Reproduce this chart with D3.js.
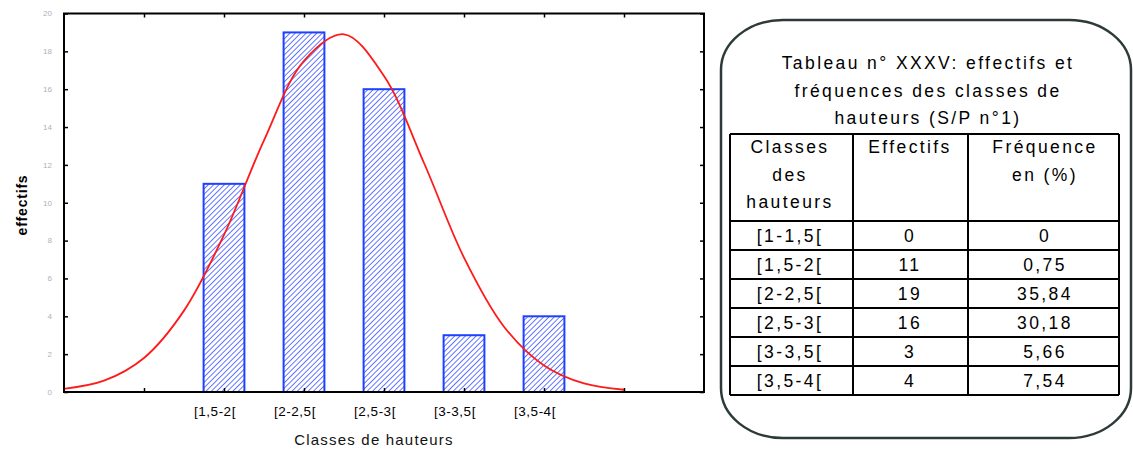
<!DOCTYPE html>
<html><head><meta charset="utf-8">
<script src="https://cdn.jsdelivr.net/npm/d3@7"></script>
<style>
html,body{margin:0;padding:0;background:#fff;}
svg{display:block;}
</style></head>
<body>
<svg id="c" width="1133" height="450"></svg>
<script>
// ---- data ----
const classes = ["[1-1,5[", "[1,5-2[", "[2-2,5[", "[2,5-3[", "[3-3,5[", "[3,5-4["];
const classLow = [1.0, 1.5, 2.0, 2.5, 3.0, 3.5];
const effectifs = [0, 11, 19, 16, 3, 4];
const frequences = ["0", "0,75", "35,84", "30,18", "5,66", "7,54"];
const yTicks = [0, 2, 4, 6, 8, 10, 12, 14, 16, 18, 20];
const xTickLabels = ["", "[1,5-2[", "[2-2,5[", "[2,5-3[", "[3-3,5[", "[3,5-4[", ""];
const xTickPos = [1.25, 1.75, 2.25, 2.75, 3.25, 3.75, 4.25];
// fitted curve
const curveX = [0.75, 1.0, 1.25, 1.5, 1.75, 2.0, 2.25, 2.5, 2.75, 3.0, 3.25, 3.5, 3.75, 4.0, 4.25];
const curveY = [0.17, 0.6, 1.8, 4.3, 8.3, 13.3, 17.5, 18.9, 16.7, 12.1, 7.1, 3.45, 1.4, 0.45, 0.12];
const tableTitle = ["Tableau n° XXXV: effectifs et", "fréquences des classes de", "hauteurs (S/P n°1)"];
const headers = [["Classes", "des", "hauteurs"], ["Effectifs"], ["Fréquence", "en (%)"]];

const svg = d3.select("#c");
const L = 64, R = 704, T = 13.5, B = 392;
const x = d3.scaleLinear().domain([0.75, 4.75]).range([L, R]);
const y = d3.scaleLinear().domain([0, 20]).range([B, T]);

// hatch pattern
const defs = svg.append("defs");
const pat = defs.append("pattern").attr("id", "hatch").attr("patternUnits", "userSpaceOnUse")
  .attr("width", 3.8).attr("height", 3.8).attr("patternTransform", "rotate(45)");
pat.append("rect").attr("width", 3.8).attr("height", 3.8).attr("fill", "#fff");
pat.append("line").attr("x1", 0).attr("y1", 0).attr("x2", 0).attr("y2", 3.8)
  .attr("stroke", "#3a55ff").attr("stroke-width", 1.6);

// bars
const halfW = (x(2) - x(1.5)) * 0.255;
const barData = classes.map((c, i) => ({c, lo: classLow[i], v: effectifs[i]})).filter(d => d.v > 0);
svg.append("g").selectAll("rect").data(barData).join("rect")
  .attr("x", d => x(d.lo + 0.25) - halfW)
  .attr("y", d => y(d.v))
  .attr("width", halfW * 2)
  .attr("height", d => y(0) - y(d.v))
  .attr("fill", "url(#hatch)")
  .attr("stroke", "#2040ff").attr("stroke-width", 2);

// curve
const pts = curveX.map((v, i) => [v, curveY[i]]);
svg.append("path").datum(pts)
  .attr("d", d3.line().x(d => x(d[0])).y(d => y(d[1])).curve(d3.curveCatmullRom))
  .attr("fill", "none").attr("stroke", "#ff1a1a").attr("stroke-width", 1.8);

// axes (inward ticks)
const gL = svg.append("g").attr("transform", `translate(${L},0)`)
  .call(d3.axisRight(y).tickValues(yTicks).tickSize(4).tickFormat(""));
const gR = svg.append("g").attr("transform", `translate(${R},0)`)
  .call(d3.axisLeft(y).tickValues(yTicks).tickSize(4).tickFormat(""));
const gB = svg.append("g").attr("transform", `translate(0,${B})`)
  .call(d3.axisTop(x).tickValues(xTickPos).tickSize(4).tickFormat(""));
const gT = svg.append("g").attr("transform", `translate(0,${T})`)
  .call(d3.axisBottom(x).tickValues(xTickPos).tickSize(4).tickFormat(""));
[gL, gR, gB, gT].forEach(g => {
  g.select(".domain").remove();
  g.selectAll(".tick line").attr("stroke", "#000").attr("stroke-width", 1.5);
});
// frame
svg.append("rect").attr("x", L).attr("y", T).attr("width", R - L).attr("height", B - T)
  .attr("fill", "none").attr("stroke", "#000").attr("stroke-width", 2);

// y tick labels
svg.append("g").selectAll("text").data(yTicks).join("text")
  .attr("x", 52).attr("y", d => y(d)).attr("dy", "0.35em")
  .attr("text-anchor", "end").attr("fill", "#a9b3bb")
  .attr("font-family", "Liberation Sans, Arial, sans-serif").attr("font-size", 8)
  .text(d => d);

// x tick labels
svg.append("g").selectAll("text").data(xTickPos).join("text")
  .attr("x", d => x(d) - 9).attr("y", 411).attr("dy", "0.35em")
  .attr("text-anchor", "middle").attr("fill", "#000")
  .attr("font-family", "Liberation Sans, Arial, sans-serif").attr("font-size", 13.5)
  .attr("letter-spacing", 0.5)
  .text((d, i) => xTickLabels[i]);

// axis titles
svg.append("text").attr("x", 374).attr("y", 440).attr("dy", "0.35em").attr("text-anchor", "middle")
  .attr("font-family", "Liberation Sans, Arial, sans-serif").attr("font-size", 15)
  .attr("letter-spacing", 1.2).attr("fill", "#111").text("Classes de hauteurs");
svg.append("text").attr("transform", "translate(27,205) rotate(-90)").attr("text-anchor", "middle")
  .attr("font-family", "Liberation Sans, Arial, sans-serif").attr("font-size", 14).attr("font-weight", "bold")
  .attr("letter-spacing", 0.8).attr("fill", "#000").text("effectifs");

// ---- table box ----
svg.append("rect").attr("x", 721).attr("y", 20).attr("width", 410).attr("height", 418)
  .attr("rx", 62).attr("ry", 50).attr("fill", "#fff").attr("stroke", "#2e3a3a").attr("stroke-width", 2.5);

const tf = "Liberation Sans, Arial, sans-serif";
const tfs = 17.5, tls = 2.4;
svg.append("g").selectAll("text").data(tableTitle).join("text")
  .attr("x", 928).attr("y", (d, i) => 63 + i * 27.5).attr("dy", "0.35em")
  .attr("text-anchor", "middle").attr("font-family", tf).attr("font-size", tfs)
  .attr("letter-spacing", tls).attr("fill", "#000").text(d => d);

const colX = [730, 853, 968, 1119];
const colC = [790, 910, 1045];
const rowTop = 221, rowH = 29;
const headTop = 134;
const tg = svg.append("g");
// grid
const hLines = [headTop, rowTop].concat(classes.map((c, i) => rowTop + (i + 1) * rowH));
tg.selectAll("line.h").data(hLines).join("line").attr("class", "h")
  .attr("x1", colX[0]).attr("x2", colX[3]).attr("y1", d => d).attr("y2", d => d)
  .attr("stroke", "#000").attr("stroke-width", 2);
tg.selectAll("line.v").data(colX).join("line").attr("class", "v")
  .attr("x1", d => d).attr("x2", d => d).attr("y1", headTop).attr("y2", rowTop + classes.length * rowH)
  .attr("stroke", "#000").attr("stroke-width", 2);
// headers
headers.forEach((lines, ci) => {
  tg.selectAll(null).data(lines).join("text")
    .attr("x", colC[ci]).attr("y", (d, i) => 147 + i * 27.5).attr("dy", "0.35em")
    .attr("text-anchor", "middle").attr("font-family", tf).attr("font-size", tfs)
    .attr("letter-spacing", tls).attr("fill", "#000").text(d => d);
});
// rows
const cols = [classes, effectifs.map(String), frequences];
cols.forEach((col, ci) => {
  tg.selectAll(null).data(col).join("text")
    .attr("x", colC[ci]).attr("y", (d, i) => rowTop + i * rowH + rowH / 2 + 0.5).attr("dy", "0.35em")
    .attr("text-anchor", "middle").attr("font-family", tf).attr("font-size", tfs)
    .attr("letter-spacing", tls).attr("fill", "#000").text(d => d);
});
</script>
</body></html>
